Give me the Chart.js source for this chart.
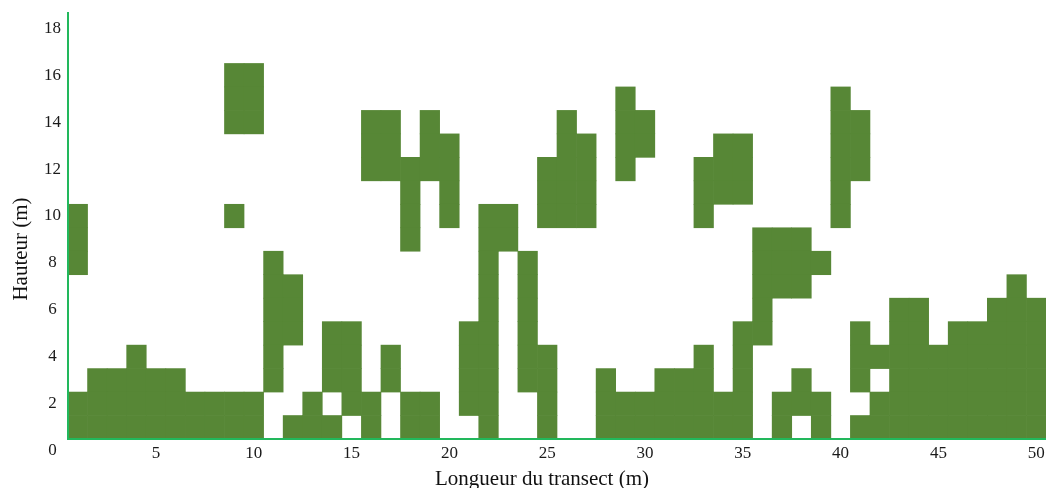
<!DOCTYPE html>
<html>
<head>
<meta charset="utf-8">
<script src="https://cdn.jsdelivr.net/npm/chart.js"></script>
<style>
  html, body { margin: 0; padding: 0; background: #fff; }
  #box { width: 1046px; height: 488px; }
</style>
</head>
<body>
<div id="box"><canvas id="myChart" width="1046" height="488"></canvas></div>
<script>
// position along the transect (m)
const positions = [1, 2, 3, 4, 5, 6, 7, 8, 9, 10,
  11, 12, 13, 14, 15, 16, 17, 18, 19, 20,
  21, 22, 23, 24, 25, 26, 27, 28, 29, 30,
  31, 32, 33, 34, 35, 36, 37, 38, 39, 40,
  41, 42, 43, 44, 45, 46, 47, 48, 49, 50];

// heights (m) where vegetation is present, one list per position
const heights = [
  [1, 2, 8, 9, 10],            // 1
  [1, 2, 3],
  [1, 2, 3],
  [1, 2, 3, 4],
  [1, 2, 3],                   // 5
  [1, 2, 3],
  [1, 2],
  [1, 2],
  [1, 2, 10, 14, 15, 16],
  [1, 2, 14, 15, 16],          // 10
  [3, 4, 5, 6, 7, 8],
  [1, 5, 6, 7],
  [1, 2],
  [1, 3, 4, 5],
  [2, 3, 4, 5],                // 15
  [1, 2, 12, 13, 14],
  [3, 4, 12, 13, 14],
  [1, 2, 9, 10, 11, 12],
  [1, 2, 12, 13, 14],
  [10, 11, 12, 13],            // 20
  [2, 3, 4, 5],
  [1, 2, 3, 4, 5, 6, 7, 8, 9, 10],
  [9, 10],
  [3, 4, 5, 6, 7, 8],
  [1, 2, 3, 4, 10, 11, 12],    // 25
  [10, 11, 12, 13, 14],
  [10, 11, 12, 13],
  [1, 2, 3],
  [1, 2, 12, 13, 14, 15],
  [1, 2, 13, 14],              // 30
  [1, 2, 3],
  [1, 2, 3],
  [1, 2, 3, 4, 10, 11, 12],
  [1, 2, 11, 12, 13],
  [1, 2, 3, 4, 5, 11, 12, 13], // 35
  [5, 6, 7, 8, 9],
  [1, 2, 7, 8, 9],
  [2, 3, 7, 8, 9],
  [1, 2, 8],
  [10, 11, 12, 13, 14, 15],    // 40
  [1, 3, 4, 5, 12, 13, 14],
  [1, 2, 4],
  [1, 2, 3, 4, 5, 6],
  [1, 2, 3, 4, 5, 6],
  [1, 2, 3, 4],                // 45
  [1, 2, 3, 4, 5],
  [1, 2, 3, 4, 5],
  [1, 2, 3, 4, 5, 6],
  [1, 2, 3, 4, 5, 6, 7],
  [1, 2, 3, 4, 5, 6]           // 50
];

const xTicks = [5, 10, 15, 20, 25, 30, 35, 40, 45, 50];
const yTicks = [0, 2, 4, 6, 8, 10, 12, 14, 16, 18];
const xTitle = 'Longueur du transect (m)';
const yTitle = 'Hauteur (m)';

const cellColor = 'rgb(87, 135, 54)';
const axisColor = '#22b85c';
const serif = '"Liberation Serif", "Times New Roman", serif';

// one bar dataset per height, each cell is a floating bar [h-0.5, h+0.5]
function makeDatasets() {
  const rows = {};
  positions.forEach(function (pos, i) {
    heights[i].forEach(function (h) {
      if (!rows[h]) rows[h] = [];
      rows[h].push({ x: pos, y: [h - 0.5, h + 0.5] });
    });
  });
  return Object.keys(rows).map(function (h) {
    return {
      label: 'h' + h,
      data: rows[h],
      backgroundColor: cellColor,
      borderWidth: 0,
      grouped: false,
      barPercentage: 1,
      categoryPercentage: 1
    };
  });
}

// axis titles, placed like the original figure
const axisTitles = {
  id: 'axisTitles',
  afterDraw(chart) {
    const ctx = chart.ctx;
    ctx.save();
    ctx.fillStyle = '#111';
    ctx.font = '21px ' + serif;
    ctx.textAlign = 'center';
    ctx.textBaseline = 'alphabetic';
    ctx.fillText(xTitle, 542, 485);
    ctx.translate(27, 249);
    ctx.rotate(-Math.PI / 2);
    ctx.fillText(yTitle, 0, 0);
    ctx.restore();
  }
};

const config = {
  type: 'bar',
  data: { datasets: makeDatasets() },
  options: {
    responsive: false,
    animation: false,
    devicePixelRatio: 1,
    layout: { padding: { top: 13, left: 0, right: 0, bottom: 0 } },
    plugins: { legend: { display: false }, tooltip: { enabled: false } },
    scales: {
      x: {
        type: 'linear',
        offset: false,
        min: 0.5,
        max: 50.5,
        grid: { display: false, drawTicks: false },
        border: { display: true, color: axisColor, width: 2, z: 1 },
        afterBuildTicks: function (scale) {
          scale.ticks = xTicks.map(function (v) { return { value: v }; });
        },
        afterFit: function (scale) {
          scale.height = 49;
          scale.paddingLeft = 0;
          scale.paddingRight = 0;
        },
        ticks: {
          autoSkip: false,
          maxRotation: 0,
          padding: 4,
          color: '#1a1a1a',
          font: { family: serif, size: 17 }
        }
      },
      y: {
        type: 'linear',
        min: 0.5,
        max: 18.65,
        grid: { display: false, drawTicks: false },
        border: { display: true, color: axisColor, width: 2, z: 1 },
        afterBuildTicks: function (scale) {
          scale.ticks = yTicks.map(function (v) { return { value: v }; });
        },
        afterFit: function (scale) {
          scale.width = 68;
          scale.paddingTop = 0;
          scale.paddingBottom = 0;
        },
        ticks: {
          autoSkip: false,
          crossAlign: 'center',
          padding: 7,
          color: '#1a1a1a',
          font: { family: serif, size: 17 }
        }
      }
    }
  },
  plugins: [axisTitles]
};

const myChart = new Chart(document.getElementById('myChart'), config);
</script>
</body>
</html>
